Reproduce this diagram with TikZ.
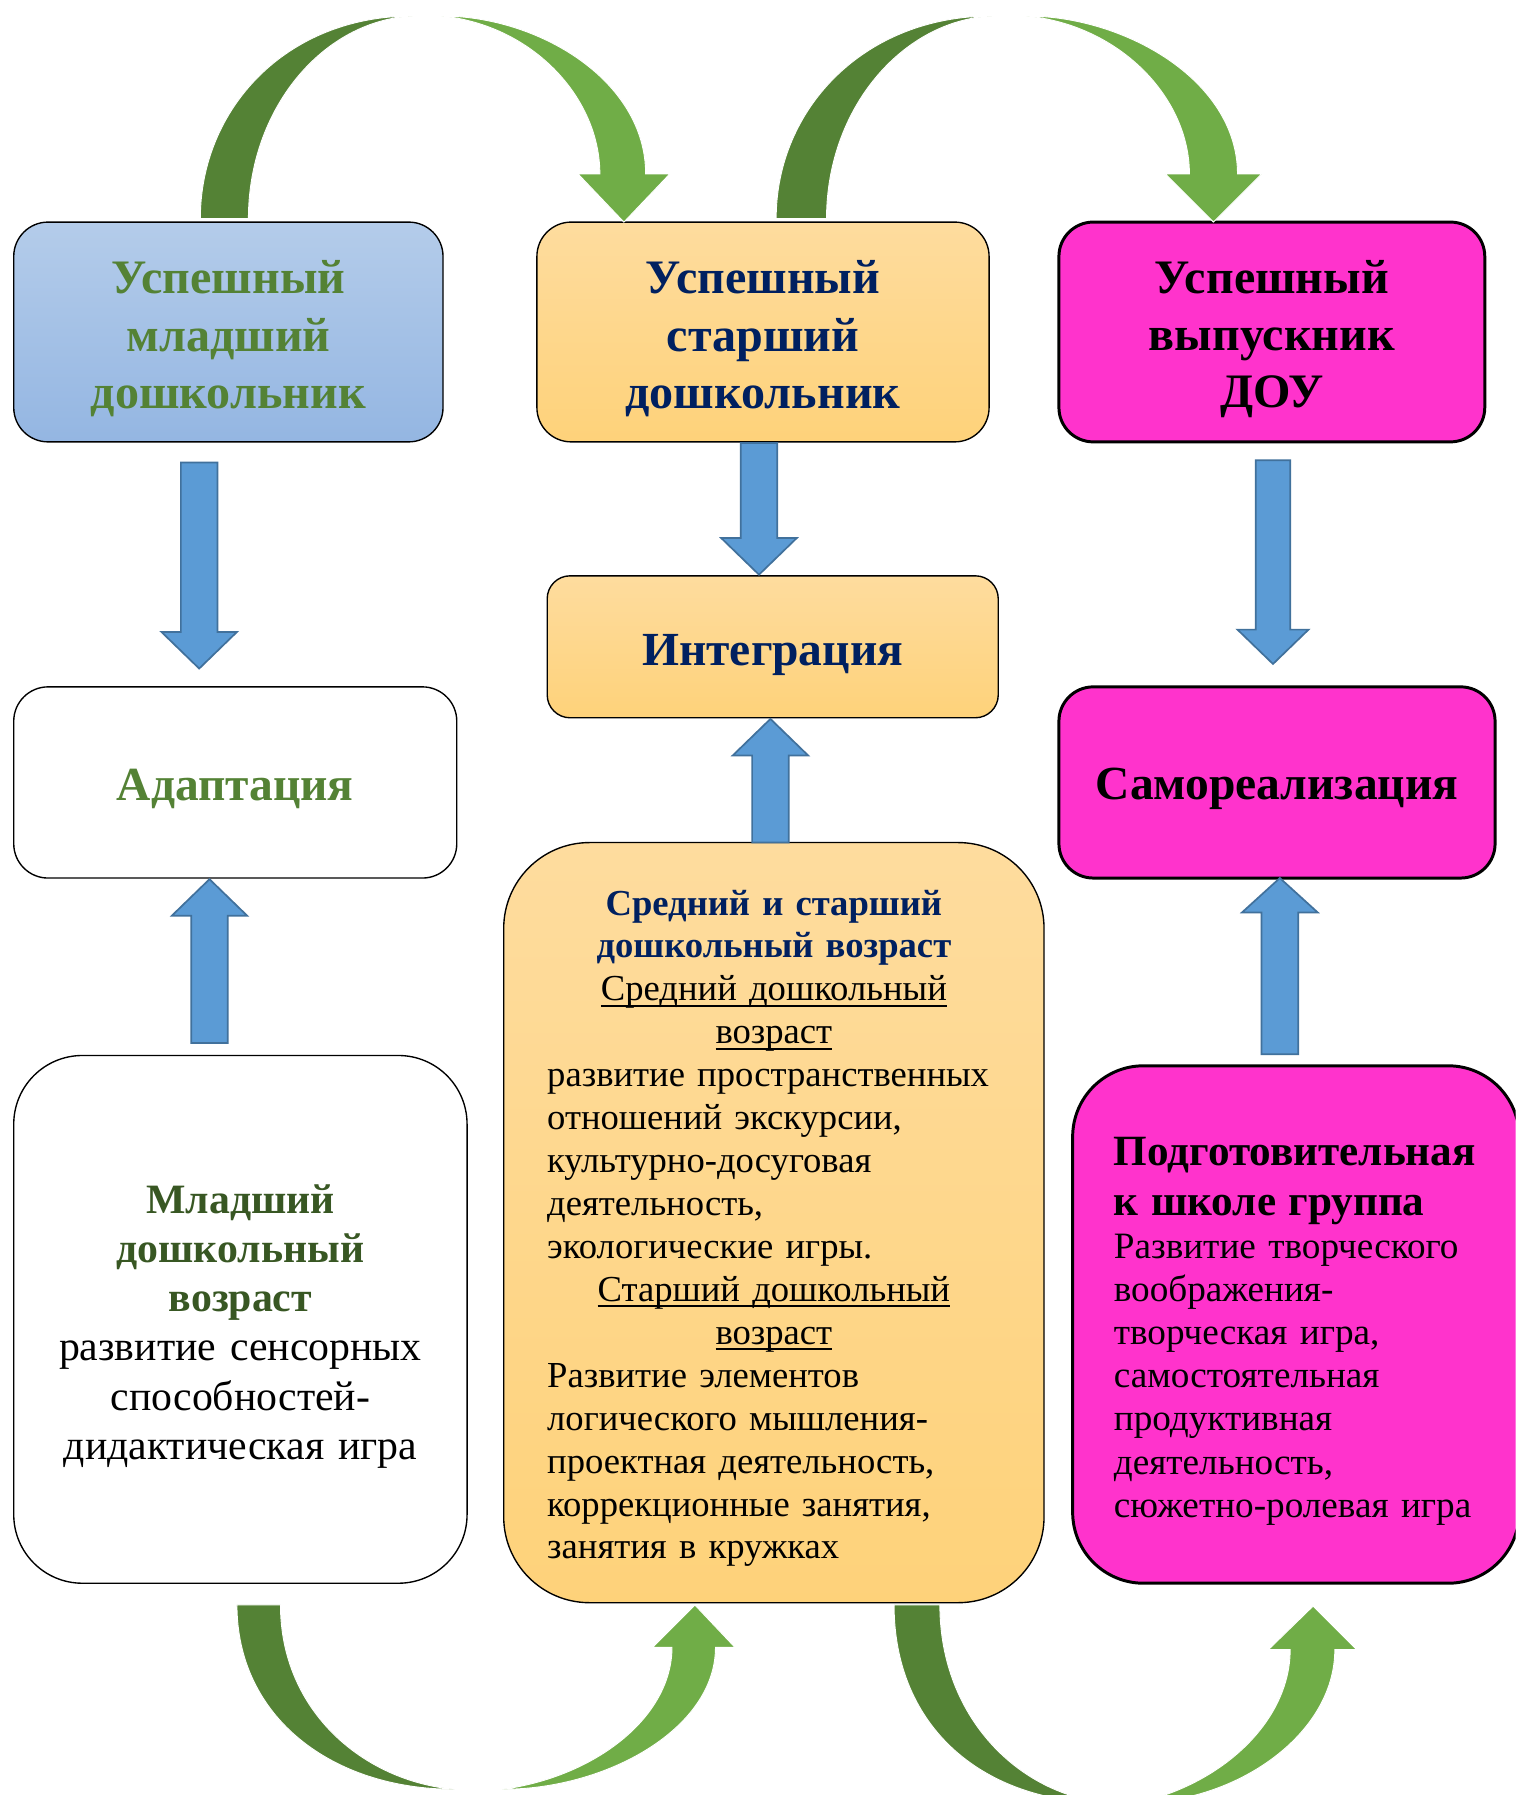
\documentclass[tikz,border=0pt]{standalone}
\usepackage{fontspec}
\setmainfont{Liberation Serif}
\definecolor{dgreen}{HTML}{548235}
\definecolor{lgreen}{HTML}{70AD47}
\definecolor{tgreen}{HTML}{548235}
\definecolor{tdgreen}{HTML}{385723}
\definecolor{navy}{HTML}{002060}
\definecolor{barrowfill}{HTML}{5B9BD5}
\definecolor{barrowline}{HTML}{41719C}
\definecolor{blueT}{HTML}{B4CCEA}
\definecolor{blueB}{HTML}{94B6E2}
\definecolor{orT}{HTML}{FEDC9E}
\definecolor{orB}{HTML}{FED27A}
\definecolor{mag}{HTML}{FF33CC}
\newcommand\myul[1]{\leavevmode\setbox0\hbox{#1}\rlap{\rule[-5pt]{\wd0}{1.6pt}}\box0}
\tikzset{
  boxbase/.style={draw=black, line width=1.2pt, rounded corners=30pt, inner sep=0pt},
  bluebox/.style={boxbase, top color=blueT, bottom color=blueB},
  orbox/.style={boxbase, top color=orT, bottom color=orB},
  magbox/.style={boxbase, fill=mag, line width=2.6pt},
  whitebox/.style={boxbase, fill=white},
  blockarrow/.style={fill=barrowfill, draw=barrowline, line width=1.5pt, line join=miter},
  gdark/.style={fill=dgreen, draw=white, line width=0.8pt},
  glight/.style={fill=lgreen, draw=white, line width=0.8pt},
  bigtitle/.style={font=\fontsize{42}{50}\selectfont\bfseries, align=center, inner sep=0pt},
  midtitle/.style={font=\fontsize{41.5}{48}\selectfont\bfseries, inner sep=0pt}
}
\begin{document}
\begin{tikzpicture}[x=1pt, y=-1pt]
\useasboundingbox (0,0) rectangle (1324,1568);
\clip (0,0) rectangle (1324,1568);
\fill[white] (0,0) rectangle (1324,1568);

% top row
\node[bluebox, minimum width=375pt, minimum height=192pt] (a1) at (199.5,290) {};
\node[bigtitle, text=tgreen] (a1text) at ([yshift=-6pt]a1.center) {Успешный\\младший\\дошкольник};
\node[orbox, minimum width=395pt, minimum height=192pt] (b1) at (666.5,290) {};
\node[bigtitle, text=navy] (b1text) at ([yshift=-6pt]b1.center) {Успешный\\старший\\дошкольник};
\node[magbox, minimum width=372pt, minimum height=192pt] (c1) at (1111,290) {};
\node[bigtitle, text=black] (c1text) at ([yshift=-6pt]c1.center) {Успешный\\выпускник\\ДОУ};

% middle row
\node[whitebox, minimum width=387pt, minimum height=167pt] (a2) at (205.5,683.5) {};
\node[midtitle, text=tgreen] (a2text) at ([yshift=-6pt]a2.center) {Адаптация};
\node[orbox, rounded corners=20pt, minimum width=394pt, minimum height=124pt] (b2) at (675,565) {};
\node[midtitle, text=navy] (b2text) at ([yshift=-7pt]b2.center) {Интеграция};
\node[magbox, minimum width=381pt, minimum height=167pt] (c2) at (1115.5,683.5) {};
\node[midtitle, text=black] (c2text) at ([yshift=-6pt]c2.center) {Самореализация};

% bottom row
\node[whitebox, rounded corners=60pt, minimum width=396pt, minimum height=461pt] (a3) at (210,1152.5) {};
\node[text width=384pt, align=center, inner sep=0pt, font=\fontsize{36.5}{43}\selectfont] (a3text) at ([yshift=-6pt]a3.center)
  {\textcolor{tdgreen}{\bfseries Младший\\дошкольный\\возраст}\par
   развитие сенсорных\\способностей-\\дидактическая игра};

\node[orbox, rounded corners=75pt, minimum width=472pt, minimum height=664pt] (b3) at (676,1068) {};
\node[text width=396pt, inner sep=0pt, font=\fontsize{32}{37.5}\selectfont] (b3text) at ([yshift=-5pt]b3.center)
  {\parskip=0pt
   {\centering\bfseries\color{navy}Средний и старший\\дошкольный возраст\par}
   {\centering\myul{Средний дошкольный}\\\myul{возраст}\par}
   {\raggedright\mbox{развитие пространственных}\\\mbox{отношений экскурсии,}\\\mbox{культурно-досуговая}\\\mbox{деятельность,}\\\mbox{экологические игры.}\par}
   {\centering\myul{Старший дошкольный}\\\myul{возраст}\par}
   {\raggedright\mbox{Развитие элементов}\\\mbox{логического мышления-}\\\mbox{проектная деятельность,}\\\mbox{коррекционные занятия,}\\\mbox{занятия в кружках}\par}};

\node[magbox, rounded corners=62pt, minimum width=390pt, minimum height=452pt] (c3) at (1132,1157) {};
\node[text width=318pt, align=left, inner sep=0pt, font=\fontsize{32.5}{37.7}\selectfont] (c3text) at ([yshift=-6pt]c3.center)
  {\parskip=0pt
   {\fontsize{37.7}{43}\selectfont\bfseries\mbox{Подготовительная}\\\mbox{к школе группа}\par}
   \mbox{Развитие творческого}\\\mbox{воображения-}\\\mbox{творческая игра,}\\\mbox{самостоятельная}\\\mbox{продуктивная}\\\mbox{деятельность,}\\\mbox{сюжетно-ролевая игра}};

% blue block arrows
\draw[blockarrow] (158,404) -- (190,404) -- (190,552) -- (207,552) -- (174,584) -- (141,552) -- (158,552) -- cycle;
\draw[blockarrow] (167,911) -- (199,911) -- (199,800) -- (216,800) -- (183,768) -- (150,800) -- (167,800) -- cycle;
\draw[blockarrow] (647,387) -- (679,387) -- (679,470) -- (696,470) -- (663,502) -- (630,470) -- (647,470) -- cycle;
\draw[blockarrow] (657,736) -- (689,736) -- (689,660) -- (706,660) -- (673,628) -- (640,660) -- (657,660) -- cycle;
\draw[blockarrow] (1097,402) -- (1127,402) -- (1127,550) -- (1143,550) -- (1112,580) -- (1081,550) -- (1097,550) -- cycle;
\draw[blockarrow] (1102,921) -- (1134,921) -- (1134,797) -- (1151,797) -- (1118,767) -- (1085,797) -- (1102,797) -- cycle;

% green curved arrows, top
\draw[gdark] (175,191) .. controls (175,95) and (250,14) .. (360,14) .. controls (282,18) and (217,95) .. (217,191) -- cycle;
\draw[glight] (386,14) .. controls (470,14) and (564,70) .. (564,152) -- (585,152) -- (545,194) -- (505,152) -- (524,152) .. controls (524,85) and (465,22) .. (386,14) -- cycle;
\draw[gdark] (678,191) .. controls (678,95) and (755,14) .. (866,14) .. controls (788,18) and (722,95) .. (722,191) -- cycle;
\draw[glight] (897,14) .. controls (982,14) and (1081,70) .. (1081,152) -- (1102,152) -- (1060,194) -- (1018,152) -- (1039,152) .. controls (1039,85) and (978,22) .. (897,14) -- cycle;

% green curved arrows, bottom
\draw[gdark] (207,1402) .. controls (207,1500) and (290,1563) .. (397,1563) .. controls (318,1556) and (245,1495) .. (245,1402) -- cycle;
\draw[glight] (439,1563) .. controls (530,1563) and (625,1510) .. (625,1439) -- (642,1439) -- (607,1402) -- (570,1439) -- (587,1439) .. controls (587,1500) and (520,1552) .. (439,1563) -- cycle;
\draw[gdark] (781,1402) .. controls (781,1510) and (860,1575) .. (968,1575) .. controls (890,1568) and (821,1500) .. (821,1402) -- cycle;
\draw[glight] (992,1575) .. controls (1080,1575) and (1166,1515) .. (1166,1441) -- (1185,1441) -- (1147,1403) -- (1108,1441) -- (1127,1441) .. controls (1127,1505) and (1065,1560) .. (992,1575) -- cycle;
\end{tikzpicture}
\end{document}
